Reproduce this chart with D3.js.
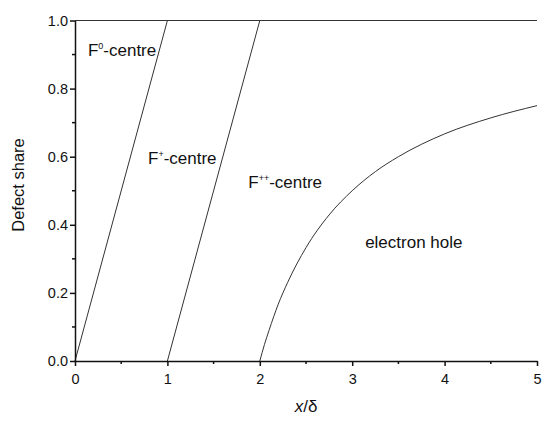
<!DOCTYPE html>
<html>
<head>
<meta charset="utf-8">
<script src="https://cdn.jsdelivr.net/npm/d3@7"></script>
<style>
  body { margin: 0; background: #fff; }
  text { font-family: Arial, "Liberation Sans", sans-serif; fill: #111; }
</style>
</head>
<body>
<div id="chart"></div>
<script>
// Data
const xTicks = [0, 1, 2, 3, 4, 5];
const yTicks = [0.0, 0.2, 0.4, 0.6, 0.8, 1.0];

const f0Line = [[0, 0], [1, 1]];
const fPlusLine = [[1, 0], [2, 1]];
const topLine = [[0, 1], [5, 1]];
const holeX = [2, 2.05, 2.1, 2.2, 2.3, 2.5, 2.75, 3, 3.25, 3.5, 4, 4.5, 5];
const holeY = [0, 0.048, 0.09, 0.167, 0.23, 0.333, 0.429, 0.5, 0.556, 0.6, 0.667, 0.714, 0.75];

const labelText = ["F", "F", "F", "electron hole"];
const labelSup = ["0", "+", "++", ""];
const labelX = [0.14, 0.79, 1.875, 3.14];
const labelY = [0.895, 0.579, 0.508, 0.332];

const svgWidth = 550, svgHeight = 421;
const margin = { top: 20.5, right: 13, bottom: 60, left: 75 };
const width = svgWidth - margin.left - margin.right;
const height = svgHeight - margin.top - margin.bottom;

const svg = d3.select('#chart').append('svg')
    .attr('width', svgWidth)
    .attr('height', svgHeight)
    .append('g')
    .attr('transform', `translate(${margin.left},${margin.top})`);

const xScale = d3.scaleLinear().domain([0, 5]).range([0, width]);
const yScale = d3.scaleLinear().domain([0, 1]).range([height, 0]);

const line = d3.line().x(d => xScale(d[0])).y(d => yScale(d[1]));
const holeData = holeX.map((x, i) => [x, holeY[i]]);

[topLine, f0Line, fPlusLine].forEach(data => {
    svg.append('path')
        .attr('d', line(data))
        .attr('fill', 'none')
        .attr('stroke', '#333')
        .attr('stroke-width', 1);
});

svg.append('path')
    .attr('d', line.curve(d3.curveMonotoneX)(holeData))
    .attr('fill', 'none')
    .attr('stroke', '#333')
    .attr('stroke-width', 1);

// Minor ticks
const xMinor = d3.range(0.5, 5, 1);
const yMinor = d3.range(0.1, 1, 0.2);

const xAxis = svg.append('g')
    .attr('transform', `translate(0,${height})`)
    .call(d3.axisBottom(xScale).tickValues(xTicks).tickFormat(d3.format('d')).tickSize(5).tickSizeOuter(0));
xAxis.append('g').selectAll('line').data(xMinor).enter().append('line')
    .attr('x1', d => xScale(d)).attr('x2', d => xScale(d))
    .attr('y1', 0).attr('y2', 3).attr('stroke', '#111').attr('stroke-width', 1.5);

const yAxis = svg.append('g')
    .call(d3.axisLeft(yScale).tickValues(yTicks).tickFormat(d3.format('.1f')).tickSize(5).tickSizeOuter(0));
yAxis.append('g').selectAll('line').data(yMinor).enter().append('line')
    .attr('y1', d => yScale(d)).attr('y2', d => yScale(d))
    .attr('x1', 0).attr('x2', -3).attr('stroke', '#111').attr('stroke-width', 1.5);

[xAxis, yAxis].forEach(ax => {
    ax.select('.domain').attr('stroke', '#111').attr('stroke-width', 1.5);
    ax.selectAll('.tick line').attr('stroke', '#111').attr('stroke-width', 1.5);
    ax.selectAll('.tick text').style('font-size', '14.5px').attr('fill', '#111')
        .style('font-family', 'Arial, "Liberation Sans", sans-serif');
});
xAxis.selectAll('.tick text').attr('dy', '1.05em');
yAxis.selectAll('.tick text').attr('x', -7);

// Axis titles
svg.append('text')
    .attr('x', xScale(2.5))
    .attr('y', height + 51)
    .style('text-anchor', 'middle')
    .style('font-size', '17px')
    .html('<tspan font-style="italic">x</tspan>/δ');

svg.append('text')
    .attr('transform', 'rotate(-90)')
    .attr('x', -(185 - margin.top))
    .attr('y', -51)
    .style('text-anchor', 'middle')
    .style('font-size', '16.5px')
    .text('Defect share');

// Curve labels
labelText.forEach((t, i) => {
    const txt = svg.append('text')
        .attr('x', xScale(labelX[i]))
        .attr('y', yScale(labelY[i]))
        .style('font-size', '17px');
    txt.append('tspan').text(t);
    if (labelSup[i]) {
        txt.append('tspan').attr('dy', -7).style('font-size', '9px').text(labelSup[i]);
        txt.append('tspan').attr('dy', 7).text('-centre');
    }
});
</script>
</body>
</html>
